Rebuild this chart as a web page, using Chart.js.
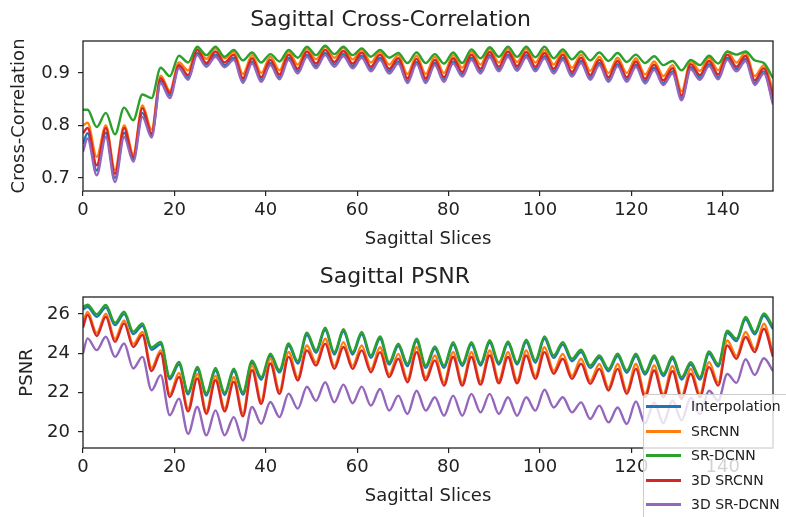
<!DOCTYPE html>
<html>
<head>
<meta charset="utf-8">
<script src="https://cdn.jsdelivr.net/npm/chart.js@4"></script>
<style>
  body { margin: 0; background: #fff; }
  #wrap { position: relative; width: 786px; height: 517px; overflow: hidden; }
  canvas { position: absolute; left: 0; }
  #ccChart { top: 0; }
  #psChart { top: 258px; }
  #legend {
    position: absolute; left: 643px; top: 394px; width: 170px; height: 140px;
    background: rgba(255, 255, 255, 0.8); border: 1px solid #cccccc; border-radius: 3px;
    font-family: 'DejaVu Sans', sans-serif; font-size: 14px; color: #222;
  }
  .row { position: absolute; left: 0; height: 20px; line-height: 20px; white-space: nowrap; }
  .row span { position: absolute; left: 2px; top: 9px; width: 35px; height: 3px; }
  .row b { position: absolute; left: 47px; font-weight: normal; }
</style>
</head>
<body>
<div id="wrap">
  <canvas id="ccChart" width="786" height="258"></canvas>
  <canvas id="psChart" width="786" height="259"></canvas>
  <div id="legend"></div>
</div>
<script>
// slice positions (peaks and troughs of each curve)
const slices = [
  0, 1, 3, 5, 7, 9, 11, 13, 15, 17, 19, 21, 23,
  25, 27, 29, 31, 33, 35, 37, 39, 41, 43, 45, 47,
  49, 51, 53, 55, 57, 59, 61, 63, 65, 67, 69, 71,
  73, 75, 77, 79, 81, 83, 85, 87, 89, 91, 93, 95,
  97, 99, 101, 103, 105, 107, 109, 111, 113, 115, 117, 119,
  121, 123, 125, 127, 129, 131, 133, 135, 137, 139, 141, 143,
  145, 147, 149, 151,
];

const seriesNames = ['Interpolation', 'SRCNN', 'SR-DCNN', '3D SRCNN', '3D SR-DCNN'];
const seriesColors = ['#1f77b4', '#ff7f0e', '#2ca02c', '#d62728', '#9467bd'];

const xTicks = [0, 20, 40, 60, 80, 100, 120, 140];
const ccTicks = [0.7, 0.8, 0.9];
const psTicks = [20, 22, 24, 26];

// cross-correlation
const ccInterp = [
  0.765, 0.785, 0.714, 0.786, 0.700, 0.786, 0.736, 0.824, 0.781, 0.885, 0.857, 0.912, 0.891,
  0.938, 0.916, 0.935, 0.915, 0.929, 0.885, 0.922, 0.887, 0.919, 0.892, 0.929, 0.903,
  0.935, 0.913, 0.938, 0.916, 0.936, 0.913, 0.933, 0.907, 0.929, 0.903, 0.922, 0.885,
  0.921, 0.885, 0.919, 0.887, 0.922, 0.897, 0.929, 0.903, 0.934, 0.907, 0.935, 0.908,
  0.934, 0.907, 0.932, 0.903, 0.929, 0.897, 0.923, 0.891, 0.919, 0.887, 0.917, 0.887,
  0.916, 0.884, 0.910, 0.881, 0.903, 0.852, 0.911, 0.891, 0.917, 0.892, 0.929, 0.907,
  0.927, 0.881, 0.903, 0.844,
];
const ccSrcnn = [
  0.800, 0.805, 0.740, 0.800, 0.715, 0.800, 0.745, 0.838, 0.792, 0.895, 0.866, 0.920, 0.905,
  0.948, 0.927, 0.947, 0.928, 0.941, 0.898, 0.934, 0.900, 0.931, 0.905, 0.941, 0.916,
  0.947, 0.926, 0.950, 0.929, 0.948, 0.926, 0.945, 0.920, 0.941, 0.916, 0.934, 0.898,
  0.933, 0.898, 0.931, 0.900, 0.934, 0.910, 0.941, 0.916, 0.946, 0.920, 0.947, 0.921,
  0.946, 0.920, 0.944, 0.916, 0.941, 0.910, 0.935, 0.904, 0.931, 0.900, 0.929, 0.900,
  0.928, 0.897, 0.922, 0.894, 0.915, 0.865, 0.923, 0.904, 0.929, 0.905, 0.941, 0.920,
  0.939, 0.894, 0.915, 0.865,
];
const ccSrdcnn = [
  0.830, 0.830, 0.797, 0.824, 0.783, 0.834, 0.810, 0.859, 0.852, 0.910, 0.894, 0.933, 0.920,
  0.950, 0.934, 0.950, 0.931, 0.944, 0.924, 0.939, 0.920, 0.936, 0.922, 0.944, 0.929,
  0.950, 0.934, 0.952, 0.936, 0.950, 0.934, 0.947, 0.931, 0.944, 0.929, 0.938, 0.919,
  0.939, 0.919, 0.936, 0.918, 0.939, 0.919, 0.945, 0.928, 0.949, 0.931, 0.950, 0.931,
  0.950, 0.930, 0.950, 0.928, 0.945, 0.926, 0.941, 0.924, 0.939, 0.923, 0.938, 0.921,
  0.935, 0.919, 0.932, 0.915, 0.923, 0.905, 0.925, 0.915, 0.933, 0.918, 0.941, 0.935,
  0.941, 0.924, 0.919, 0.890,
];
const cc3dSrcnn = [
  0.785, 0.795, 0.724, 0.795, 0.708, 0.795, 0.740, 0.833, 0.785, 0.890, 0.862, 0.915, 0.896,
  0.944, 0.919, 0.941, 0.920, 0.935, 0.890, 0.928, 0.892, 0.925, 0.897, 0.935, 0.908,
  0.941, 0.918, 0.944, 0.921, 0.942, 0.918, 0.939, 0.912, 0.935, 0.908, 0.928, 0.890,
  0.927, 0.890, 0.925, 0.892, 0.928, 0.902, 0.935, 0.908, 0.940, 0.912, 0.941, 0.913,
  0.940, 0.912, 0.938, 0.908, 0.935, 0.902, 0.929, 0.896, 0.925, 0.892, 0.923, 0.892,
  0.922, 0.889, 0.916, 0.886, 0.909, 0.857, 0.917, 0.896, 0.923, 0.897, 0.935, 0.912,
  0.933, 0.886, 0.909, 0.855,
];
const cc3dSrdcnn = [
  0.750, 0.775, 0.705, 0.778, 0.692, 0.778, 0.731, 0.816, 0.777, 0.881, 0.852, 0.909, 0.887,
  0.934, 0.912, 0.931, 0.911, 0.925, 0.881, 0.918, 0.883, 0.915, 0.888, 0.925, 0.899,
  0.931, 0.909, 0.934, 0.912, 0.932, 0.909, 0.929, 0.903, 0.925, 0.899, 0.918, 0.881,
  0.917, 0.881, 0.915, 0.883, 0.918, 0.893, 0.925, 0.899, 0.930, 0.903, 0.931, 0.904,
  0.930, 0.903, 0.928, 0.899, 0.925, 0.893, 0.919, 0.887, 0.915, 0.883, 0.913, 0.883,
  0.912, 0.880, 0.906, 0.877, 0.899, 0.848, 0.907, 0.887, 0.913, 0.888, 0.925, 0.903,
  0.923, 0.877, 0.899, 0.840,
];

// PSNR
const psInterp = [
  26.23, 26.35, 25.86, 26.33, 25.43, 25.99, 24.98, 25.40, 24.18, 24.46, 22.68, 23.44, 21.92,
  23.19, 21.85, 23.13, 21.88, 23.10, 21.90, 23.51, 22.66, 23.86, 23.03, 24.38, 23.48,
  24.93, 24.03, 25.18, 23.94, 25.10, 23.94, 24.96, 23.77, 24.74, 23.43, 24.37, 23.35,
  24.62, 23.26, 24.23, 23.26, 24.45, 23.35, 24.45, 23.38, 24.54, 23.43, 24.48, 23.43,
  24.57, 23.52, 24.74, 23.77, 24.45, 23.60, 24.06, 23.26, 23.77, 23.09, 23.86, 23.01,
  23.86, 22.92, 23.77, 22.84, 23.72, 22.67, 23.43, 22.67, 23.98, 23.33, 25.03, 24.62,
  25.73, 24.96, 25.90, 25.23,
];
const psSrcnn = [
  25.55, 26.10, 25.03, 26.01, 24.73, 25.67, 24.47, 25.08, 23.25, 24.15, 21.93, 23.00, 21.20,
  22.95, 21.08, 22.85, 21.20, 22.78, 20.95, 23.38, 21.58, 23.73, 22.09, 24.07, 22.77,
  24.40, 23.53, 24.74, 23.36, 24.57, 23.36, 24.40, 23.19, 24.31, 22.94, 23.97, 22.68,
  24.31, 22.77, 23.89, 22.51, 24.06, 22.51, 24.06, 22.56, 24.14, 22.63, 24.06, 22.63,
  24.14, 22.85, 24.31, 23.11, 23.97, 22.85, 23.72, 22.60, 23.46, 22.26, 23.46, 22.09,
  23.46, 21.92, 23.38, 21.92, 23.34, 21.83, 23.21, 21.92, 23.55, 22.51, 24.65, 23.87,
  25.08, 24.21, 25.50, 23.97,
];
const psSrdcnn = [
  26.35, 26.47, 25.98, 26.45, 25.55, 26.11, 25.10, 25.52, 24.30, 24.58, 22.80, 23.56, 22.04,
  23.31, 21.97, 23.25, 22.00, 23.22, 22.02, 23.63, 22.78, 23.98, 23.15, 24.50, 23.60,
  25.05, 24.15, 25.30, 24.06, 25.22, 24.06, 25.08, 23.89, 24.86, 23.55, 24.49, 23.47,
  24.74, 23.38, 24.35, 23.38, 24.57, 23.47, 24.57, 23.50, 24.66, 23.55, 24.60, 23.55,
  24.69, 23.64, 24.86, 23.89, 24.57, 23.72, 24.18, 23.38, 23.89, 23.21, 23.98, 23.13,
  23.98, 23.04, 23.89, 22.96, 23.84, 22.79, 23.55, 22.79, 24.10, 23.45, 25.15, 24.74,
  25.85, 25.08, 26.02, 25.35,
];
const ps3dSrcnn = [
  25.30, 25.95, 24.88, 25.86, 24.58, 25.52, 24.32, 24.93, 23.10, 24.00, 21.78, 22.80, 21.05,
  22.72, 20.93, 22.63, 21.05, 22.55, 20.80, 23.14, 21.43, 23.48, 21.94, 23.82, 22.62,
  24.15, 23.38, 24.49, 23.21, 24.32, 23.21, 24.15, 23.04, 24.06, 22.79, 23.72, 22.53,
  24.06, 22.62, 23.64, 22.36, 23.81, 22.36, 23.81, 22.41, 23.89, 22.48, 23.81, 22.48,
  23.89, 22.70, 24.06, 22.96, 23.72, 22.70, 23.47, 22.45, 23.21, 22.11, 23.21, 21.94,
  23.21, 21.77, 23.13, 21.77, 23.09, 21.68, 22.96, 21.77, 23.30, 22.36, 24.40, 23.72,
  24.83, 24.06, 25.25, 23.82,
];
const ps3dSrdcnn = [
  24.00, 24.76, 24.16, 24.84, 23.82, 24.50, 23.23, 23.82, 22.12, 22.89, 20.85, 21.70, 19.91,
  21.27, 19.83, 21.10, 19.83, 20.76, 19.57, 21.27, 20.42, 21.53, 20.76, 21.95, 21.19,
  22.30, 21.59, 22.53, 21.51, 22.41, 21.46, 22.31, 21.34, 22.19, 21.09, 21.85, 20.92,
  22.10, 21.09, 21.77, 20.83, 21.85, 20.83, 21.94, 21.00, 21.94, 20.92, 21.77, 20.83,
  21.77, 21.09, 22.15, 21.25, 21.77, 21.00, 21.51, 20.66, 21.34, 20.49, 21.25, 20.41,
  21.55, 20.45, 21.50, 20.45, 21.60, 20.60, 21.75, 20.90, 22.10, 21.60, 22.95, 22.50,
  23.70, 22.90, 23.75, 23.10,
];

const textColor = '#222';
Chart.defaults.font.family = "'DejaVu Sans', sans-serif";
Chart.defaults.color = textColor;

// black frame round the plot area, like matplotlib spines
const chartAreaBorder = {
  id: 'chartAreaBorder',
  afterDraw(chart) {
    const { ctx, chartArea: { left, top, width, height } } = chart;
    ctx.save();
    ctx.strokeStyle = textColor;
    ctx.lineWidth = 1.3;
    ctx.strokeRect(left, top, width, height);
    ctx.restore();
  },
};

function makeDatasets(seriesValues) {
  return seriesValues.map((values, i) => ({
    label: seriesNames[i],
    data: values.map((y, j) => ({ x: slices[j], y })),
    borderColor: seriesColors[i],
    borderWidth: 2.4,
    pointRadius: 0,
    cubicInterpolationMode: 'monotone',
    order: seriesNames.length - i, // last series on top
  }));
}

function makeChart(canvasId, opts) {
  return new Chart(document.getElementById(canvasId), {
    type: 'line',
    data: { datasets: makeDatasets(opts.series) },
    options: {
      responsive: false,
      animation: false,
      layout: { padding: opts.padding },
      scales: {
        x: {
          type: 'linear',
          min: 0,
          max: 151,
          afterBuildTicks: (scale) => { scale.ticks = xTicks.map((v) => ({ value: v })); },
          afterFit: (scale) => { scale.height = opts.xHeight; },
          ticks: { font: { size: 18 }, padding: 4, maxRotation: 0, autoSkip: false, callback: (v) => String(v) },
          grid: { drawOnChartArea: false, tickLength: 5, color: textColor, lineWidth: 1.2 },
          border: { display: false },
          title: { display: true, text: 'Sagittal Slices', font: { size: 18 }, padding: 0 },
        },
        y: {
          min: opts.yMin,
          max: opts.yMax,
          afterBuildTicks: (scale) => { scale.ticks = opts.yTicks.map((v) => ({ value: v })); },
          afterFit: (scale) => { scale.width = opts.yWidth; },
          ticks: { font: { size: 18 }, padding: 8, callback: (v) => String(v) },
          grid: { drawOnChartArea: false, tickLength: 5, color: textColor, lineWidth: 1.2 },
          border: { display: false },
          title: { display: true, text: opts.yTitle, font: { size: 18 }, padding: 0 },
        },
      },
      plugins: {
        legend: { display: false },
        tooltip: { enabled: false },
        title: {
          display: true,
          text: opts.title,
          font: { size: 22, weight: 'normal' },
          color: textColor,
          padding: opts.titlePadding,
        },
      },
    },
    plugins: [chartAreaBorder],
  });
}

makeChart('ccChart', {
  series: [ccInterp, ccSrcnn, ccSrdcnn, cc3dSrcnn, cc3dSrdcnn],
  title: 'Sagittal Cross-Correlation',
  yTitle: 'Cross-Correlation',
  yTicks: ccTicks,
  yMin: 0.675,
  yMax: 0.961,
  padding: { left: 8.2, right: 13, top: 0, bottom: 7.9 },
  titlePadding: { top: 7, bottom: 7.6 },
  xHeight: 59.1,
  yWidth: 74.8,
});

makeChart('psChart', {
  series: [psInterp, psSrcnn, psSrdcnn, ps3dSrcnn, ps3dSrdcnn],
  title: 'Sagittal PSNR',
  yTitle: 'PSNR',
  yTicks: psTicks,
  yMin: 19.19,
  yMax: 26.86,
  padding: { left: 16.7, right: 13, top: 0, bottom: 10.2 },
  titlePadding: { top: 6.2, bottom: 6.4 },
  xHeight: 58.8,
  yWidth: 66.3,
});

// legend box overlapping the lower plot, as in the original
const legend = document.getElementById('legend');
seriesNames.forEach((name, i) => {
  const row = document.createElement('div');
  row.className = 'row';
  row.style.top = (1 + 24.5 * i) + 'px';
  row.innerHTML = '<span style="background:' + seriesColors[i] + '"></span><b>' + name + '</b>';
  legend.appendChild(row);
});
</script>
</body>
</html>
